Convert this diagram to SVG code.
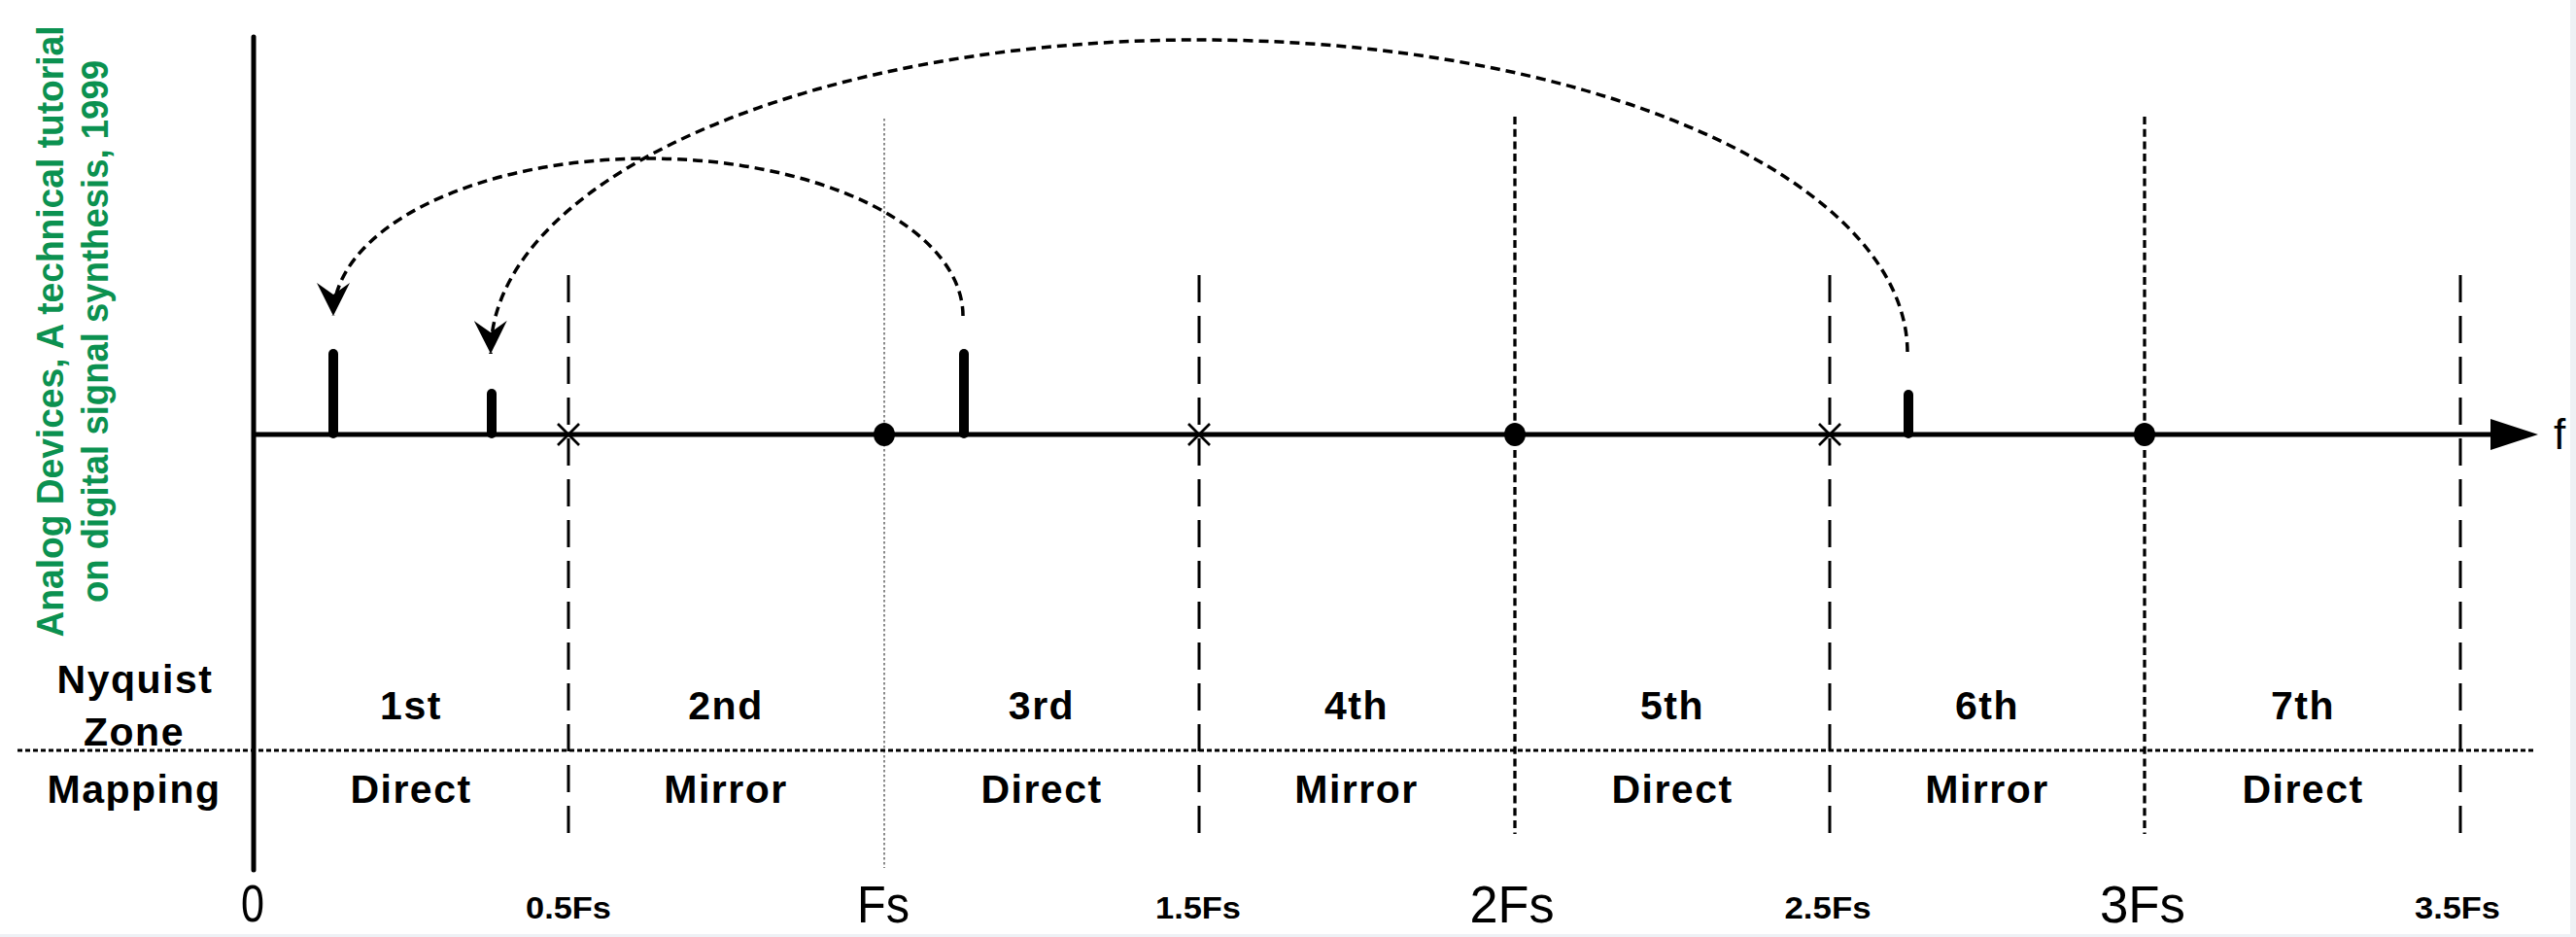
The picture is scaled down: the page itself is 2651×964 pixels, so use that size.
<svg xmlns="http://www.w3.org/2000/svg" width="2651" height="964" viewBox="0 0 2651 964">
<style>
.axis{stroke:#000;stroke-width:5;fill:none}
.spike{stroke:#000;stroke-width:10;stroke-linecap:round}
.longdash{stroke:#000;stroke-width:3;stroke-dasharray:28 14;fill:none}
.shortdash{stroke:#000;stroke-width:3.3;stroke-dasharray:8 4.7;fill:none}
.fsline{stroke:#8a8a8a;stroke-width:2;stroke-dasharray:2.5 2.5;fill:none}
.sep{stroke:#000;stroke-width:3;stroke-dasharray:5 3;fill:none}
.arc{stroke:#000;stroke-width:3.5;stroke-dasharray:10 6;fill:none}
.xmark{stroke:#000;stroke-width:2.6}
.lbl{font-family:"Liberation Sans",Arial,sans-serif;font-weight:bold;font-size:41px;text-anchor:middle;fill:#000;letter-spacing:1.5px}
.fbig{font-family:"Liberation Sans",Arial,sans-serif;font-size:54px;text-anchor:middle;fill:#000}
.fsmall{font-family:"Liberation Sans",Arial,sans-serif;font-weight:bold;font-size:32px;text-anchor:middle;fill:#000}
.green{font-family:"Liberation Sans",Arial,sans-serif;font-weight:bold;font-size:38px;text-anchor:middle;fill:#0b9150}
</style>
<defs>
<marker id="arrowhead" markerUnits="userSpaceOnUse" viewBox="0 0 34 34" markerWidth="34" markerHeight="34" refX="34" refY="17" orient="auto">
<path d="M34 17 L0 0 L12 17 L0 34 Z" fill="#000"/>
</marker>
</defs>
<rect x="0" y="0" width="2651" height="964" fill="#ffffff"/>
<rect x="2645" y="0" width="6" height="964" fill="#eef1f5"/>
<rect x="0" y="961" width="2651" height="3" fill="#eef1f5"/>

<g id="green-note">
<text class="green" transform="translate(65,341) rotate(-90)" textLength="629" lengthAdjust="spacingAndGlyphs">Analog Devices, A technical tutorial</text>
<text class="green" transform="translate(111,341) rotate(-90)" textLength="558" lengthAdjust="spacingAndGlyphs">on digital signal synthesis, 1999</text>
</g>

<g id="grid-lines">
<line class="longdash" x1="585" y1="283" x2="585" y2="858"/>
<line class="fsline" x1="910" y1="122" x2="910" y2="893"/>
<line class="longdash" x1="1234" y1="283" x2="1234" y2="858"/>
<line class="shortdash" x1="1559" y1="120" x2="1559" y2="858"/>
<line class="longdash" x1="1883" y1="283" x2="1883" y2="858"/>
<line class="shortdash" x1="2207" y1="120" x2="2207" y2="858"/>
<line class="longdash" x1="2532" y1="283" x2="2532" y2="858"/>
<line class="sep" x1="18" y1="772" x2="2607" y2="772"/>
</g>

<g id="axes">
<line class="axis" x1="261" y1="38" x2="261" y2="895" stroke-linecap="round"/>
<line class="axis" x1="259" y1="447" x2="2570" y2="447"/>
<path d="M2612 447 L2563 431 L2563 463 Z" fill="#000"/>
<text x="2628" y="462" font-family="Liberation Sans,Arial,sans-serif" font-size="44" fill="#000">f</text>
</g>

<g id="markers">
<line class="xmark" x1="574" y1="436" x2="596" y2="458"/>
<line class="xmark" x1="596" y1="436" x2="574" y2="458"/>
<line class="xmark" x1="1223" y1="436" x2="1245" y2="458"/>
<line class="xmark" x1="1245" y1="436" x2="1223" y2="458"/>
<line class="xmark" x1="1872" y1="436" x2="1894" y2="458"/>
<line class="xmark" x1="1894" y1="436" x2="1872" y2="458"/>
<ellipse cx="910" cy="447" rx="11" ry="12" fill="#000"/>
<ellipse cx="1559" cy="447" rx="11" ry="12" fill="#000"/>
<ellipse cx="2207" cy="447" rx="11" ry="12" fill="#000"/>
</g>

<g id="spikes">
<line class="spike" x1="343" y1="446" x2="343" y2="364"/>
<line class="spike" x1="506" y1="446" x2="506" y2="405"/>
<line class="spike" x1="992" y1="446" x2="992" y2="364"/>
<line class="spike" x1="1964" y1="446" x2="1964" y2="406"/>
</g>

<g id="connectors">
<path class="arc" d="M991 325 A324 162 0 0 0 343 325" marker-end="url(#arrowhead)"/>
<path class="arc" d="M1963 362 A729 322 0 0 0 505 364" marker-end="url(#arrowhead)"/>
</g>

<g id="row-headers">
<text class="lbl" x="139" y="713">Nyquist</text>
<text class="lbl" x="138" y="767">Zone</text>
<text class="lbl" x="138" y="826">Mapping</text>
</g>

<g id="zone-labels">
<text class="lbl" x="423" y="740">1st</text>
<text class="lbl" x="747" y="740">2nd</text>
<text class="lbl" x="1072" y="740">3rd</text>
<text class="lbl" x="1396" y="740">4th</text>
<text class="lbl" x="1721" y="740">5th</text>
<text class="lbl" x="2045" y="740">6th</text>
<text class="lbl" x="2370" y="740">7th</text>
<text class="lbl" x="423" y="826">Direct</text>
<text class="lbl" x="747" y="826">Mirror</text>
<text class="lbl" x="1072" y="826">Direct</text>
<text class="lbl" x="1396" y="826">Mirror</text>
<text class="lbl" x="1721" y="826">Direct</text>
<text class="lbl" x="2045" y="826">Mirror</text>
<text class="lbl" x="2370" y="826">Direct</text>
</g>

<g id="freq-labels">
<text class="fbig" x="260" y="948" font-size="50" textLength="24" lengthAdjust="spacingAndGlyphs">0</text>
<text class="fsmall" x="585" y="945" textLength="88" lengthAdjust="spacingAndGlyphs">0.5Fs</text>
<text class="fbig" x="909" y="949" textLength="54" lengthAdjust="spacingAndGlyphs">Fs</text>
<text class="fsmall" x="1233" y="945" textLength="88" lengthAdjust="spacingAndGlyphs">1.5Fs</text>
<text class="fbig" x="1556" y="949" textLength="87" lengthAdjust="spacingAndGlyphs">2Fs</text>
<text class="fsmall" x="1881" y="945" textLength="89" lengthAdjust="spacingAndGlyphs">2.5Fs</text>
<text class="fbig" x="2205" y="949" textLength="88" lengthAdjust="spacingAndGlyphs">3Fs</text>
<text class="fsmall" x="2529" y="945" textLength="88" lengthAdjust="spacingAndGlyphs">3.5Fs</text>
</g>
</svg>
